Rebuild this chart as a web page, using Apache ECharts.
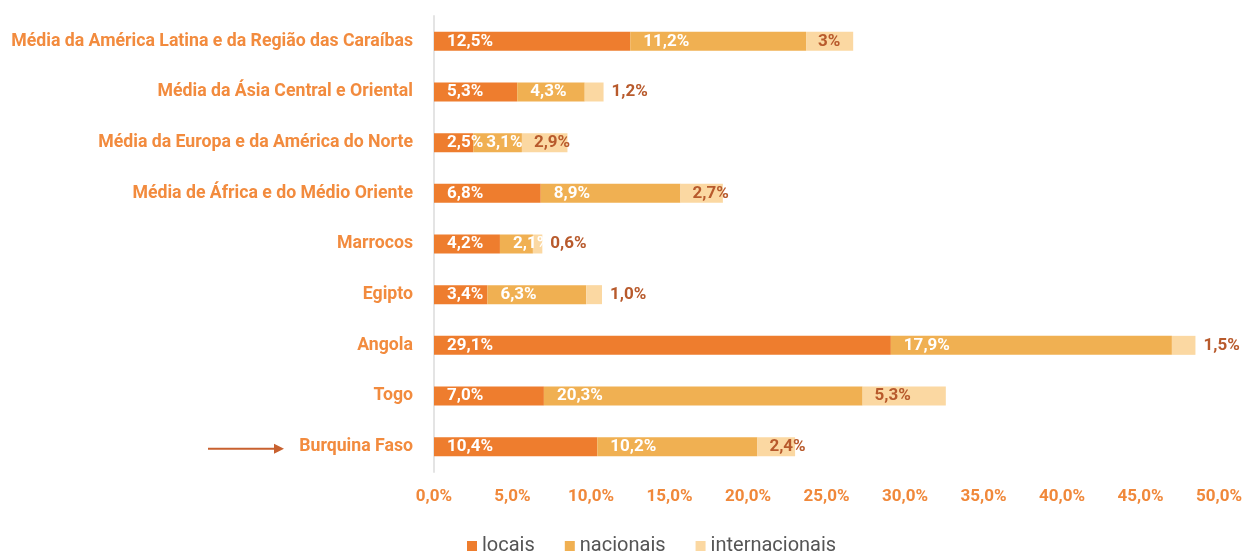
<!DOCTYPE html>
<html>
<head>
<meta charset="utf-8">
<script src="https://cdn.jsdelivr.net/npm/echarts@6/dist/echarts.min.js"></script>
<style>
html,body{margin:0;padding:0;background:#fff;}
#chart{width:1253px;height:551px;}
</style>
</head>
<body>
<div id="chart"></div>
<script>
// categorias (de cima para baixo)
var categories = ['Média da América Latina e da Região das Caraíbas', 'Média da Ásia Central e Oriental',
    'Média da Europa e da América do Norte', 'Média de África e do Médio Oriente', 'Marrocos',
    'Egipto', 'Angola', 'Togo', 'Burquina Faso'];
var locais = [12.5, 5.3, 2.5, 6.8, 4.2, 3.4, 29.1, 7.0, 10.4];
var nacionais = [11.2, 4.3, 3.1, 8.9, 2.1, 6.3, 17.9, 20.3, 10.2];
var internacionais = [3, 1.2, 2.9, 2.7, 0.6, 1.0, 1.5, 5.3, 2.4];
var intlText = ['3%', '1,2%', '2,9%', '2,7%', '0,6%', '1,0%', '1,5%', '5,3%', '2,4%'];

function fmt(v){
    return v.toFixed(1).replace('.', ',') + '%';
}

var labelFont = 'Roboto';
var chart = echarts.init(document.getElementById('chart'));

// o eixo de categorias vai de baixo para cima, por isso inverte-se
var cats = categories.slice().reverse();
function rev(a){ return a.slice().reverse(); }

var intlData = rev(internacionais).map(function(v, i){
    var t = rev(intlText)[i];
    return {
        value: v,
        label: {
            position: v < 2 ? 'right' : 'insideLeft',
            distance: v < 2 ? 8 : 12,
            formatter: t
        }
    };
});

var inLabel = {show: true, position: 'insideLeft', distance: 13, color: '#fff', fontSize: 17,
    fontWeight: 'bold', fontFamily: labelFont, formatter: function(p){ return fmt(p.value); }};

var option = {
    animation: false,
    grid: {left: 434, right: 34, top: 16, bottom: 79},
    legend: {
        data: ['locais', 'nacionais', 'internacionais'],
        left: 462, top: 531,
        itemWidth: 10, itemHeight: 10, itemGap: 30,
        icon: 'rect',
        textStyle: {color: '#555', fontSize: 20, fontFamily: labelFont}
    },
    xAxis: {
        type: 'value', min: 0, max: 50, interval: 5,
        splitLine: {show: false},
        axisLine: {show: false}, axisTick: {show: false},
        axisLabel: {
            color: '#f0883a', fontSize: 17, fontWeight: 'bold', fontFamily: labelFont, margin: 16,
            formatter: function(v){ return fmt(v); }
        }
    },
    yAxis: {
        type: 'category', data: cats,
        axisLine: {show: true, lineStyle: {color: '#e4e4e4', width: 2}},
        axisTick: {show: false},
        axisLabel: {color: '#f28b3e', fontSize: 17.7, fontWeight: 'bold', fontFamily: labelFont, margin: 21}
    },
    series: [
        {
            name: 'locais', type: 'bar', stack: 't', barWidth: 19,
            itemStyle: {color: '#ee7d2e'},
            label: inLabel,
            data: rev(locais)
        },
        {
            name: 'nacionais', type: 'bar', stack: 't', barWidth: 19,
            itemStyle: {color: '#f0b052'},
            label: inLabel,
            data: rev(nacionais)
        },
        {
            name: 'internacionais', type: 'bar', stack: 't', barWidth: 19,
            itemStyle: {color: '#fbd8a2'},
            label: {show: true, color: '#b85a2c', fontSize: 17, fontWeight: 'bold', fontFamily: labelFont},
            data: intlData
        }
    ]
};
chart.setOption(option);

// seta a apontar para Burquina Faso
var ay = chart.convertToPixel({yAxisIndex: 0}, 'Burquina Faso');
chart.setOption({
    graphic: [
        {type: 'line', shape: {x1: 208, y1: ay + 2, x2: 276, y2: ay + 2}, style: {stroke: '#c8612f', lineWidth: 2}},
        {type: 'polygon', shape: {points: [[284, ay + 2], [274, ay - 3], [274, ay + 7]]}, style: {fill: '#c8612f'}}
    ]
});
</script>
</body>
</html>
